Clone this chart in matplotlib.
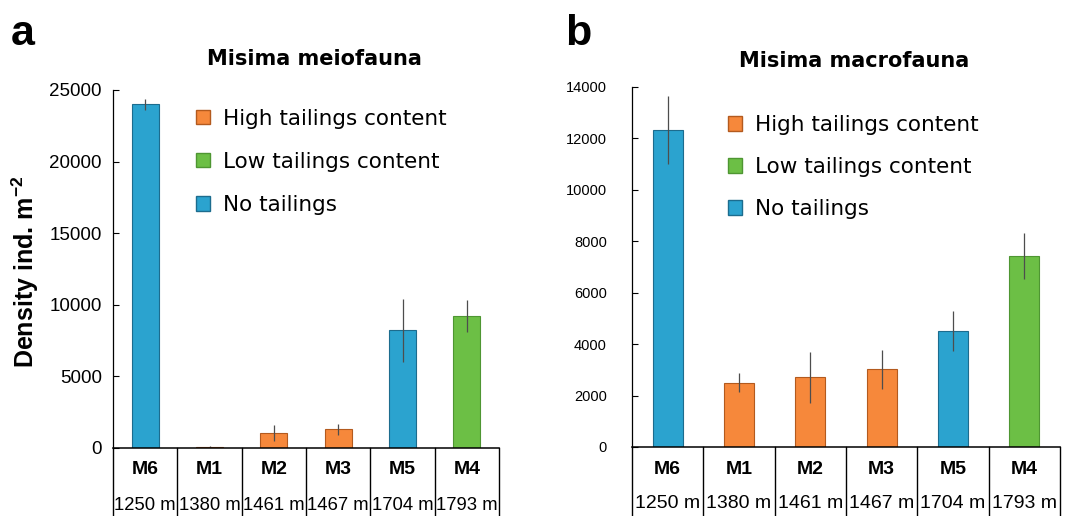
import matplotlib.pyplot as plt
from matplotlib.patches import Patch

plt.rcParams['font.family'] = ['Liberation Sans', 'DejaVu Sans']
plt.rcParams['mathtext.default'] = 'regular'

sites = ['M6', 'M1', 'M2', 'M3', 'M5', 'M4']
depths = ['1250 m', '1380 m', '1461 m', '1467 m', '1704 m', '1793 m']
groups = ['none', 'high', 'high', 'high', 'none', 'low']

meio_mean = [24000, 100, 1070, 1300, 8220, 9220]
meio_err = [400, 30, 550, 380, 2200, 1100]

macro_mean = [12330, 2500, 2710, 3020, 4510, 7430]
macro_err = [1320, 370, 980, 760, 760, 900]

colors = {'high': '#f6883b', 'low': '#6cbf45', 'none': '#2ba3cf'}
edges = {'high': '#b35a1e', 'low': '#4e9632', 'none': '#1c6c8e'}
legend_labels = [('high', 'High tailings content'),
                 ('low', 'Low tailings content'),
                 ('none', 'No tailings')]

W, H = 1069, 516
fig = plt.figure(figsize=(W / 100, H / 100), dpi=100)


def px_axes(x0, y0, x1, y1):
    return fig.add_axes([x0 / W, (H - y1) / H, (x1 - x0) / W, (y1 - y0) / H])


def panel(ax, means, errs, ymax, step, tick_fs, tick_pad, depth_fs, leg_xy, leg_sp):
    x = range(len(sites))
    ax.bar(x, means, width=0.42,
           color=[colors[g] for g in groups],
           edgecolor=[edges[g] for g in groups], linewidth=0.8,
           yerr=errs, ecolor='#4d4d4d',
           error_kw=dict(elinewidth=0.9, capsize=0), zorder=2)
    ax.set_xlim(-0.5, len(sites) - 0.5)
    ax.set_ylim(0, ymax)
    ax.set_yticks(range(0, ymax + 1, step))
    ax.tick_params(axis='y', direction='in', length=4, width=0.8,
                   labelsize=tick_fs, pad=tick_pad)
    ax.set_xticks([])
    for s in ['top', 'right']:
        ax.spines[s].set_visible(False)
    ax.spines['left'].set_linewidth(0.9)
    ax.spines['bottom'].set_linewidth(1.1)

    # category table under the axis
    tr = ax.get_xaxis_transform()
    for k in range(len(sites) + 1):
        ax.plot([k - 0.5, k - 0.5], [0, -0.4], transform=tr, color='black',
                lw=1.0, clip_on=False)
    for i, (s, d) in enumerate(zip(sites, depths)):
        ax.annotate(s, xy=(i, 0), xycoords=tr, xytext=(0, -22),
                    textcoords='offset pixels', ha='center', va='center',
                    fontsize=14, fontweight='bold')
        ax.annotate(d, xy=(i, 0), xycoords=tr, xytext=(0, -57),
                    textcoords='offset pixels', ha='center', va='center',
                    fontsize=depth_fs)

    handles = [Patch(facecolor=colors[g], edgecolor=edges[g], label=l)
               for g, l in legend_labels]
    ax.legend(handles=handles, loc='upper left', bbox_to_anchor=leg_xy,
              frameon=False, borderpad=0, borderaxespad=0,
              prop={'family': 'DejaVu Sans', 'size': 15.5},
              handlelength=0.65, handleheight=0.65, handletextpad=0.6,
              labelspacing=leg_sp)


ax1 = px_axes(113, 90, 499, 448)
panel(ax1, meio_mean, meio_err, 25000, 5000, 13.5, 8, 13.3,
      (0.215, 0.948), 1.08)

ax2 = px_axes(632, 87, 1060, 447)
panel(ax2, macro_mean, macro_err, 14000, 2000, 10.5, 18, 14,
      (0.224, 0.922), 1.02)

title_font = dict(family='DejaVu Sans', fontsize=15, fontweight='bold',
                  ha='center', va='center')
fig.text(314 / W, 1 - 59 / H, 'Misima meiofauna', **title_font)
fig.text(854 / W, 1 - 61 / H, 'Misima macrofauna', **title_font)

fig.text(25 / W, 1 - 272 / H, 'Density ind. m$^{-2}$', rotation=90,
         fontsize=18, fontweight='bold', ha='center', va='center')

fig.text(11 / W, 1 - 45 / H, 'a', fontsize=31, fontweight='bold',
         ha='left', va='baseline')
fig.text(565 / W, 1 - 45 / H, 'b', fontsize=31, fontweight='bold',
         ha='left', va='baseline')

fig.savefig('out.png', dpi=100)
